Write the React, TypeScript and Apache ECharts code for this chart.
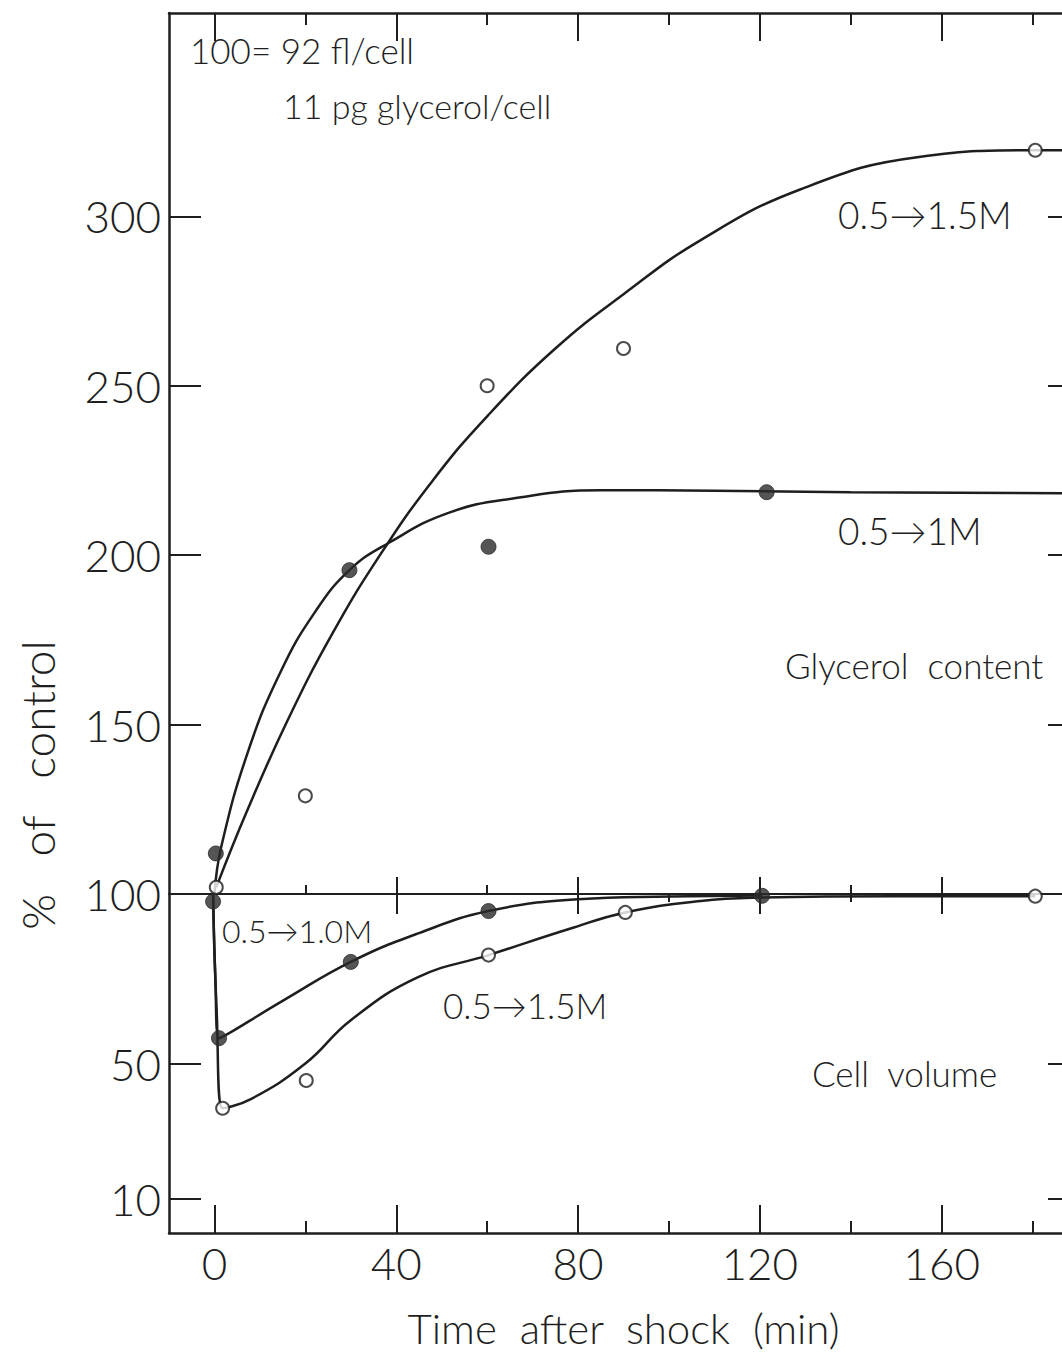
import React, { useEffect, useRef } from "react";
import * as echarts from "echarts";

const FONT = 'Lato, "Open Sans", Roboto, sans-serif';
const INK = "#1e1e1e";

// Axis ticks
const xMajorTicks = [0, 40, 80, 120, 160];
const xMinorTicks = [20, 60, 100, 140, 180];
const yTickValues = [10, 50, 100, 150, 200, 250, 300];
const midMajorTicks = [40, 80, 120, 160];
const midMinorUpTicks = [20, 60, 140];
const midMinorDownTicks = [100, 140];

// Measured points [time (min), % of control]
const glycerolHighPoints = [[0.4, 102], [20, 129], [60, 250], [90, 261], [180.6, 319.5]];
const glycerolLowPoints = [[0.3, 112], [29.7, 195.6], [60.3, 202.5], [121.5, 218.6]];
const volumeLowPoints = [[-0.3, 97.8], [1, 57.5], [30, 80], [60.3, 95], [120.5, 99.5]];
const volumeHighPoints = [[1.8, 36.8], [20.2, 45], [60.3, 82], [90.4, 94.6], [180.6, 99.4]];

// Hand-drawn fitted curves
const glycerolHighCurve = [[0.4, 102], [7, 124], [16, 151], [26, 177], [36.7, 200.6], [48, 222], [60, 241], [75, 261], [90, 277], [107, 293], [129, 308], [155, 317.5], [180.6, 319.5], [190, 319.5]];
const glycerolLowCurve = [[0, 100], [1.5, 114], [7.5, 142.5], [14.7, 166], [22, 183], [29.7, 195.6], [38.3, 203.6], [51.5, 212.5], [66, 216.8], [85, 219.2], [110, 219], [140, 218.6], [190, 218.3]];
const volumeLowCurve = [[-0.3, 100], [0.2, 75], [1, 57.5], [15, 68.5], [30, 80], [45, 88.5], [60.3, 95], [80, 98.5], [100, 99.3], [120.5, 99.6]];
const volumeHighCurve = [[-0.3, 100], [0.5, 65], [1.8, 36.8], [8, 39.5], [20, 50], [30, 62.8], [44.8, 75.5], [60.3, 82], [78, 89.7], [90.4, 94.6], [107, 98], [120, 99], [150, 99.4], [180.6, 99.4]];

const X_MIN = -10;
const X_MAX = 190;
const Y_MIN = 0;
const Y_MAX = 360;
const REF_VALUE = 100;

const GRID = { left: 169, top: 13, width: 909, height: 1220 };

function xAxis(position: string, opts: any) {
  return {
    type: "value",
    min: X_MIN,
    max: X_MAX,
    position,
    offset: opts.offset || 0,
    splitLine: { show: false },
    axisLine: { show: !!opts.line, onZero: false, lineStyle: { color: INK, width: opts.lineWidth || 2.5 } },
    axisTick: {
      show: true,
      inside: opts.inside !== false,
      length: opts.tickLength,
      customValues: opts.ticks,
      lineStyle: { color: INK, width: 2 },
    },
    axisLabel: { show: false },
  };
}

export default function App() {
  const ref = useRef<HTMLDivElement>(null);

  useEffect(() => {
    if (!ref.current) return;
    const chart = echarts.init(ref.current, null, { renderer: "svg" });
    const midOffset = -(GRID.height * (REF_VALUE - Y_MIN)) / (Y_MAX - Y_MIN);

    const bottomMain: any = xAxis("bottom", { line: true, tickLength: 28, ticks: xMajorTicks });
    bottomMain.axisLabel = {
      show: true,
      customValues: xMajorTicks,
      fontSize: 44,
      fontFamily: FONT,
      fontWeight: 300,
      color: INK,
      margin: 8,
    };
    bottomMain.name = "Time  after  shock  (min)";
    bottomMain.nameLocation = "middle";
    bottomMain.nameGap = 74;
    bottomMain.nameTextStyle = { fontSize: 42, fontFamily: FONT, fontWeight: 300, color: INK };

    const lineSeries = (name: string, data: number[][]) => ({
      name,
      type: "line",
      data,
      smooth: 0.45,
      showSymbol: false,
      symbol: "none",
      lineStyle: { color: INK, width: 2.5 },
      z: 2,
      silent: true,
    });
    const pointSeries = (name: string, data: number[][], filled: boolean) => ({
      name,
      type: "scatter",
      data,
      symbol: "circle",
      symbolSize: filled ? 15 : 13,
      itemStyle: filled
        ? { color: "#2b2b2b", borderColor: "#2b2b2b", borderWidth: 1 }
        : { color: "#ffffff", borderColor: INK, borderWidth: 2 },
      z: 4,
      silent: true,
    });

    const textEl = (text: string, x: number, y: number, size: number, extra: any = {}) => ({
      type: "text",
      x,
      y,
      silent: true,
      ...extra,
      style: {
        text,
        fontSize: size,
        fontFamily: FONT,
        fontWeight: 300,
        fill: INK,
        verticalAlign: "middle",
        textVerticalAlign: "middle",
        ...(extra.style || {}),
      },
    });

    chart.setOption({
      animation: false,
      backgroundColor: "#ffffff",
      grid: { ...GRID, containLabel: false, outerBoundsMode: "none" },
      xAxis: [
        bottomMain,
        xAxis("bottom", { line: false, tickLength: 12, ticks: xMinorTicks }),
        xAxis("top", { line: true, tickLength: 28, ticks: xMajorTicks }),
        xAxis("top", { line: false, tickLength: 12, ticks: xMinorTicks }),
        xAxis("bottom", { line: true, lineWidth: 2, tickLength: 17, ticks: midMajorTicks, offset: midOffset }),
        xAxis("bottom", { line: false, inside: false, tickLength: 20, ticks: midMajorTicks, offset: midOffset }),
        xAxis("bottom", { line: false, tickLength: 9, ticks: midMinorUpTicks, offset: midOffset }),
        xAxis("bottom", { line: false, inside: false, tickLength: 8, ticks: midMinorDownTicks, offset: midOffset }),
      ],
      yAxis: [
        {
          type: "value",
          min: Y_MIN,
          max: Y_MAX,
          position: "left",
          splitLine: { show: false },
          axisLine: { show: true, onZero: false, lineStyle: { color: INK, width: 2.5 } },
          axisTick: { show: true, inside: true, length: 32, customValues: yTickValues, lineStyle: { color: INK, width: 2 } },
          axisLabel: {
            show: true,
            customValues: yTickValues,
            fontSize: 44,
            fontFamily: FONT,
            fontWeight: 300,
            color: INK,
            margin: 8,
          },
        },
        {
          type: "value",
          min: Y_MIN,
          max: Y_MAX,
          position: "right",
          splitLine: { show: false },
          axisLine: { show: true, onZero: false, lineStyle: { color: INK, width: 2.5 } },
          axisTick: { show: true, inside: true, length: 30, customValues: yTickValues, lineStyle: { color: INK, width: 2 } },
          axisLabel: { show: false },
        },
      ],
      series: [
        lineSeries("Glycerol 0.5→1.5M curve", glycerolHighCurve),
        lineSeries("Glycerol 0.5→1M curve", glycerolLowCurve),
        lineSeries("Volume 0.5→1.0M curve", volumeLowCurve),
        lineSeries("Volume 0.5→1.5M curve", volumeHighCurve),
        pointSeries("Glycerol 0.5→1.5M", glycerolHighPoints, false),
        pointSeries("Glycerol 0.5→1M", glycerolLowPoints, true),
        pointSeries("Volume 0.5→1.0M", volumeLowPoints, true),
        pointSeries("Volume 0.5→1.5M", volumeHighPoints, false),
      ],
      graphic: [
        textEl("%   of   control", 37, 785, 46, { rotation: Math.PI / 2, style: { textAlign: "center", align: "center" } }),
        textEl("100= 92 fl/cell", 190, 50, 35),
        textEl("11 pg glycerol/cell", 283, 105, 34),
        textEl("0.5→1.5M", 838, 214, 37),
        textEl("0.5→1M", 838, 530, 37),
        textEl("Glycerol  content", 785, 665, 35),
        textEl("0.5→1.0M", 222, 930, 32),
        textEl("0.5→1.5M", 443, 1005, 35),
        textEl("Cell  volume", 812, 1073, 35),
      ],
    });

    return () => chart.dispose();
  }, []);

  return (
    <div
      style={{
        position: "absolute",
        left: 0,
        top: 0,
        width: 1062,
        height: 1353,
        overflow: "hidden",
        background: "#ffffff",
      }}
    >
      <div ref={ref} style={{ width: 1100, height: 1353 }} />
    </div>
  );
}
